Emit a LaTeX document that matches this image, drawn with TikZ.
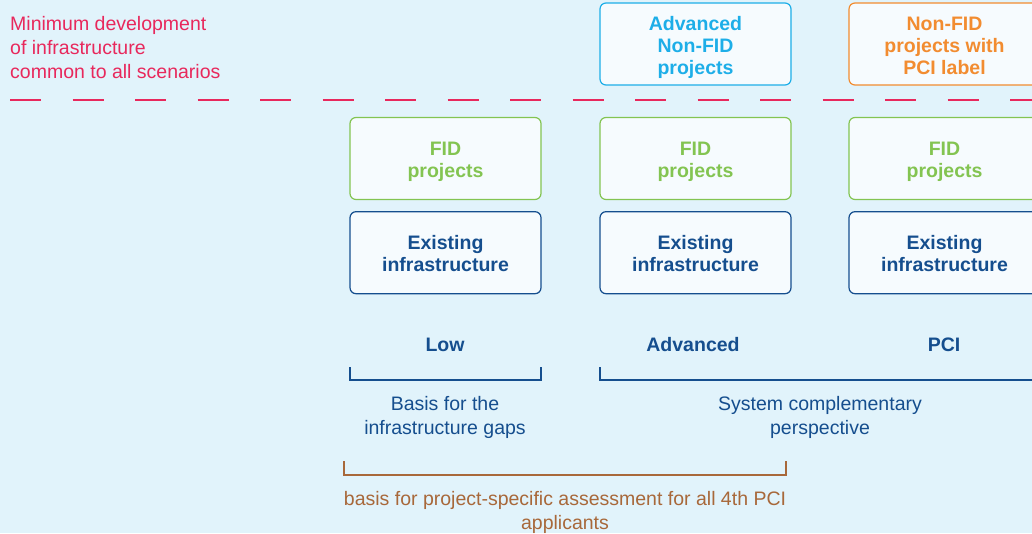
\documentclass[tikz,border=0pt]{standalone}
\usepackage{fontspec}
\setmainfont{Liberation Sans}
\usepackage{xcolor}
\usepackage{tikz}
\usetikzlibrary{positioning}
\definecolor{bgblue}{HTML}{E1F3FB}
\definecolor{boxfill}{HTML}{F6FBFE}
\definecolor{minred}{HTML}{E8285C}
\definecolor{advcyan}{HTML}{1DAEE8}
\definecolor{pciorange}{HTML}{F28C30}
\definecolor{fidgreen}{HTML}{83C451}
\definecolor{exnavy}{HTML}{154E8E}
\definecolor{assessbrown}{HTML}{A8683A}
\newcommand{\txtfont}{\fontsize{19.5}{24}\selectfont}
\newcommand{\boxfont}{\fontsize{19.5}{22}\selectfont\bfseries}
\tikzset{%
  box/.style = {rectangle,draw,fill=boxfill,rounded corners=6pt,line width=1.2pt,
        minimum width=191pt,minimum height=82pt,align=center,font=\boxfont,
        text depth=4pt},
  twoline/.style = {box,text height=41pt},
  threeline/.style = {box,text height=64pt},
  fid/.style = {twoline,draw=fidgreen,text=fidgreen},
  ex/.style = {twoline,draw=exnavy,text=exnavy},
  adv/.style = {threeline,draw=advcyan,text=advcyan},
  pci/.style = {threeline,draw=pciorange,text=pciorange},
  scen/.style = {font=\boxfont,text=exnavy},
  note/.style = {font=\txtfont,align=center},
  brace/.style = {line width=1.2pt}
}

\begin{document}
\begin{tikzpicture}[x=1pt,y=-1pt]
  \useasboundingbox (0,0) rectangle (1032,533);
  \clip (0,0) rectangle (1032,533);
  \fill[bgblue] (0,0) rectangle (1032,533);

  % minimum common development
  \node[font=\txtfont,text=minred,align=left,anchor=west,inner sep=0pt] (min) at (10,48)
    {Minimum development\\of infrastructure\\common to all scenarios};
  \coordinate (dl) at (10,100);
  \coordinate (dr) at (1040,100);
  \draw[minred,line width=2pt,dash pattern=on 31pt off 31.5pt] (dl) -- (dr);

  % scenario columns
  \node[fid] (fid1) at (445.5,158.5) {FID\\projects};
  \node[fid] (fid2) at (695.5,158.5) {FID\\projects};
  \node[fid] (fid3) at (944.5,158.5) {FID\\projects};
  \node[ex] (ex1) [below=11pt of fid1] {Existing\\infrastructure};
  \node[ex] (ex2) [below=11pt of fid2] {Existing\\infrastructure};
  \node[ex] (ex3) [below=11pt of fid3] {Existing\\infrastructure};
  \node[adv] (adv) at (695.5,44) {Advanced\\Non-FID\\projects};
  \node[pci] (pcil) at (944.5,44) {Non-FID\\projects with\\PCI label};

  \node[scen] (low) at (445,345) {Low};
  \node[scen] (advsc) at (693,345) {Advanced};
  \node[scen] (pcisc) at (944,345) {PCI};

  % brackets under the scenarios
  \coordinate (b1a) at (350,367);
  \coordinate (b1b) at (541,367);
  \coordinate (b2a) at (600,367);
  \coordinate (b2b) at (1040,367);
  \draw[brace,exnavy] (b1a) |- ([yshift=-13pt]b1b) -- (b1b);
  \draw[brace,exnavy] (b2a) |- ([yshift=-13pt]b2b) -- (b2b);
  \node[note,text=exnavy] (gaps) at (445,417) {Basis for the\\infrastructure gaps};
  \node[note,text=exnavy] (sys) at (820,417) {System complementary\\perspective};

  \coordinate (b3a) at (344,461);
  \coordinate (b3b) at (786,461);
  \draw[brace,assessbrown] (b3a) |- ([yshift=-14pt]b3b) -- (b3b);
  \node[note,text=assessbrown] (assess) at (565,512)
    {basis for project-specific assessment for all 4th PCI\\applicants};
\end{tikzpicture}
\end{document}
